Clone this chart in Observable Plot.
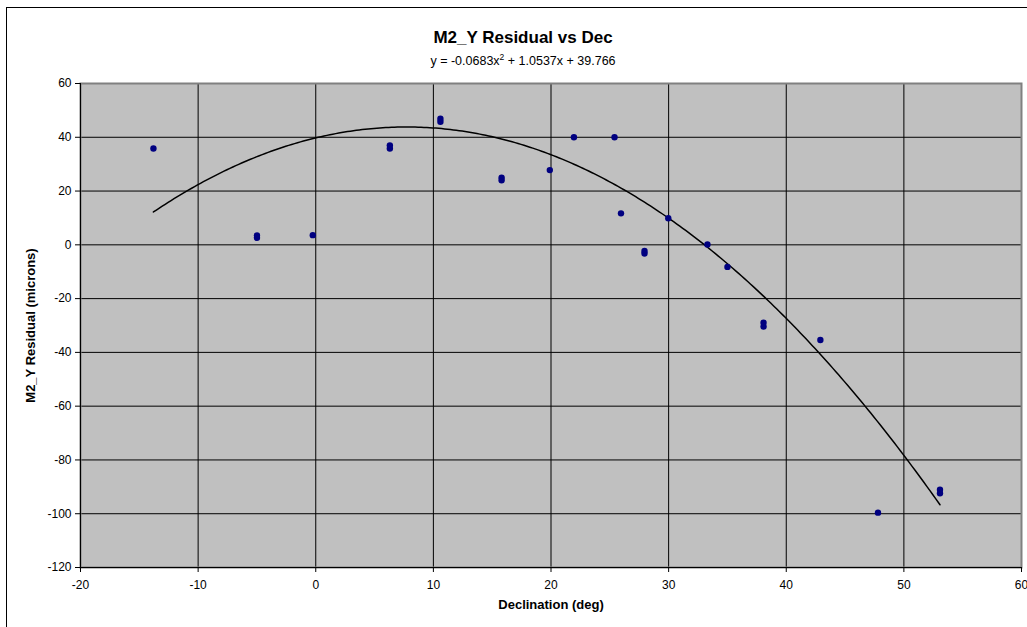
<!DOCTYPE html>
<html>
<head>
<meta charset="utf-8">
<script src="https://cdn.jsdelivr.net/npm/d3@7"></script>
<script src="https://cdn.jsdelivr.net/npm/@observablehq/plot@0.6"></script>
<style>
  html, body { margin: 0; padding: 0; background: #fff; overflow: hidden; }
  #wrap { position: relative; width: 1027px; height: 627px; font-family: "Liberation Sans", Arial, sans-serif; }
  #border { position: absolute; left: 6px; top: 7px; width: 1100px; height: 700px; border: 1px solid #000; box-sizing: border-box; }
  .title { position: absolute; left: 0; width: 1046px; text-align: center; color: #000; white-space: nowrap; }
  #t1 { top: 29px; font-size: 17px; font-weight: bold; line-height: 17px; }
  #t2 { top: 55px; font-size: 12.5px; line-height: 13px; }
  #t2 sup { font-size: 8.5px; line-height: 0; vertical-align: 5px; }
  #chart { position: absolute; left: 0; top: 0; }
</style>
</head>
<body>
<div id="wrap">
  <div id="border"></div>
  <div class="title" id="t1">M2_Y Residual vs Dec</div>
  <div class="title" id="t2">y = -0.0683x<sup>2</sup> + 1.0537x + 39.766</div>
  <div id="chart"></div>
</div>
<script>
// Declination (deg) of each measurement
const declination = [-13.8, -5.0, -5.0, -0.25, 6.3, 6.3, 10.6, 10.6, 15.8, 15.8, 19.9, 21.95, 25.4, 25.95, 27.95, 27.95, 29.97, 33.3, 35.0, 38.07, 38.07, 42.9, 47.8, 53.07, 53.07];
// M2_Y residual (microns)
const residual = [35.8, 3.5, 2.6, 3.6, 37.0, 35.8, 46.9, 45.8, 25.0, 24.0, 27.8, 40.0, 40.0, 11.7, -2.3, -3.2, 9.9, 0.1, -8.2, -29.0, -30.4, -35.4, -99.6, -91.1, -92.4];
// Polynomial trendline coefficients shown on the chart: a*x^2 + b*x + c
const trendCoef = [-0.0683, 1.0537, 39.766];
// Axis ticks
const xTicks = [-20, -10, 0, 10, 20, 30, 40, 50, 60];
const yTicks = [-120, -100, -80, -60, -40, -20, 0, 20, 40, 60];

const points = declination.map((d, i) => ({dec: d, res: residual[i]}));
const xMin = d3.min(declination), xMax = d3.max(declination);
const trend = d3.range(xMin, xMax, 0.25).concat([xMax]).map(x => ({dec: x, res: trendCoef[0]*x*x + trendCoef[1]*x + trendCoef[2]}));

const font = '"Liberation Sans", Arial, sans-serif';
const chart = Plot.plot({
  width: 1027,
  height: 627,
  marginLeft: 80,
  marginRight: 6,
  marginTop: 83,
  marginBottom: 60,
  style: {fontFamily: font, fontSize: "12px", color: "#000", background: "transparent", overflow: "visible"},
  x: {domain: [-20, 60], ticks: xTicks},
  y: {domain: [-120, 60], ticks: yTicks},
  marks: [
    Plot.frame({fill: "#c0c0c0", stroke: null}),
    Plot.gridX(xTicks, {stroke: "#000", strokeOpacity: 1, strokeWidth: 1}),
    Plot.gridY(yTicks, {stroke: "#000", strokeOpacity: 1, strokeWidth: 1}),
    Plot.frame({stroke: "#808080", strokeWidth: 2}),
    Plot.axisX(xTicks, {tickSize: 5, tickPadding: 8, label: null, fontSize: 12, tickFormat: d => String(d)}),
    Plot.axisY(yTicks, {tickSize: 5, tickPadding: 4, label: null, fontSize: 12, tickFormat: d => String(d)}),
    Plot.ruleY([-120], {stroke: "#000"}),
    Plot.ruleX([-20], {stroke: "#000"}),
    Plot.line(trend, {x: "dec", y: "res", stroke: "#000", strokeWidth: 1.5}),
    Plot.dot(points, {x: "dec", y: "res", r: 3.2, fill: "#000080", stroke: null}),
    Plot.text(["Declination (deg)"], {frameAnchor: "bottom", dy: 41, fontWeight: "bold", fontSize: 13, text: d => d}),
    Plot.text(["M2_Y Residual (microns)"], {frameAnchor: "left", dx: -50, rotate: -90, textAnchor: "middle", fontWeight: "bold", fontSize: 13, text: d => d})
  ]
});
document.getElementById("chart").appendChild(chart);
</script>
</body>
</html>
